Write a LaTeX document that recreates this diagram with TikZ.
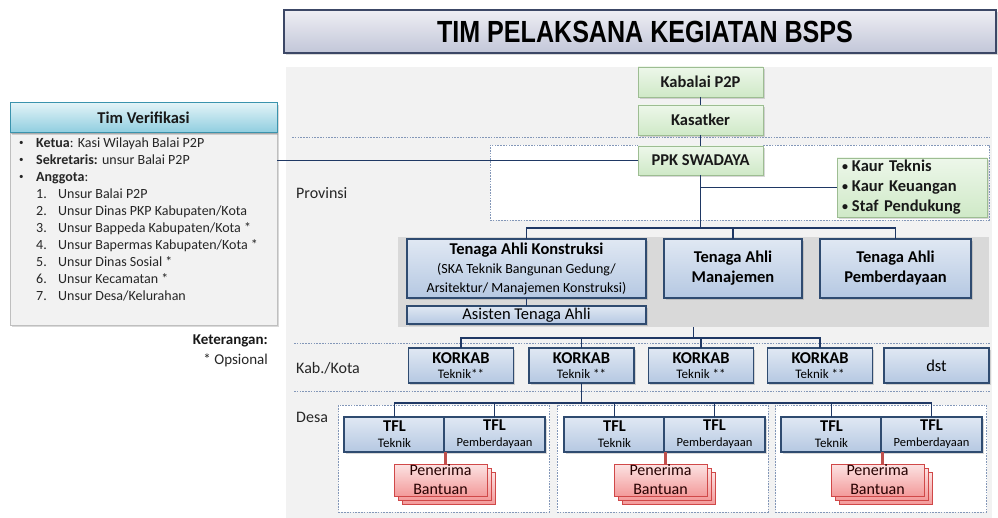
\documentclass[tikz,border=0pt]{standalone}
\usepackage{fontspec}
\setmainfont{Carlito}
\newfontfamily\titlefont{Liberation Sans}
\usetikzlibrary{shadows}
\definecolor{navy}{HTML}{1F3864}
\definecolor{panelgray}{HTML}{F2F2F2}
\definecolor{bandgray}{HTML}{D9D9D9}
\definecolor{title1}{HTML}{EEEEF4}
\definecolor{title2}{HTML}{C2C6D8}
\definecolor{titleborder}{HTML}{3C4766}
\definecolor{green1}{HTML}{EDF7EA}
\definecolor{green2}{HTML}{CFE9C7}
\definecolor{greenborder}{HTML}{9DBD92}
\definecolor{blue1}{HTML}{E0E8F3}
\definecolor{blue2}{HTML}{B5C8E2}
\definecolor{blueborder}{HTML}{2F4B70}
\definecolor{teal1}{HTML}{E2F3F7}
\definecolor{teal2}{HTML}{8ECDDF}
\definecolor{tealborder}{HTML}{3A93AD}
\definecolor{pink1}{HTML}{FCE3E3}
\definecolor{pink2}{HTML}{F39A9A}
\definecolor{pinkborder}{HTML}{D04848}
\definecolor{redline}{HTML}{C0504D}
\definecolor{dashcol}{HTML}{8397B8}
\definecolor{bodygray}{HTML}{F2F2F2}
\definecolor{bodyborder}{HTML}{BFBFBF}
\newcommand{\smallbul}{\raisebox{0.25ex}{\fontsize{9}{9}\selectfont•}}
\newcommand{\kaurbul}{\raisebox{0.2ex}{\fontsize{12}{12}\selectfont•}\hspace{4pt}}
\begin{document}
\begin{tikzpicture}[x=1pt,y=-1pt,
  box/.style={inner sep=0pt, outer sep=0pt, align=center},
  shadowed/.style={drop shadow={shadow xshift=1.8pt, shadow yshift=-1.8pt, opacity=0.3}},
  titlebox/.style={box, shadowed, draw=titleborder, line width=1.2pt, top color=title1, bottom color=title2},
  greenbox/.style={box, shadowed, draw=greenborder, line width=0.9pt, top color=green1, bottom color=green2,
     font=\fontsize{16.5}{20}\selectfont\bfseries, text=black!90},
  bluebox/.style={box, shadowed, draw=blueborder, line width=1.3pt, top color=blue1, bottom color=blue2, text=black},
  pinkbox/.style={box, draw=pinkborder, line width=0.9pt, top color=pink1, bottom color=pink2,
     minimum width=93pt, minimum height=32pt, text=black!85!red, font=\fontsize{16}{19}\selectfont},
  dashbox/.style={box, draw=dashcol, fill=white, line width=0.8pt, dash pattern=on 1.6pt off 1.2pt},
  sepline/.style={draw=dashcol, line width=0.8pt, dash pattern=on 1.6pt off 1.2pt},
  conn/.style={draw=navy, line width=1.8pt},
  redconn/.style={draw=redline, line width=3pt},
  lvl/.style={anchor=west, inner sep=0pt, font=\fontsize{16}{19}\selectfont, text=black!85},
  tvtext/.style={anchor=north west, inner sep=0pt, align=left, font=\fontsize{14}{17}\selectfont, text=black!85},
  korkab/.style={bluebox, minimum width=105pt, minimum height=35pt},
  tfl/.style={bluebox, minimum width=101pt, minimum height=35pt},
  desabox/.style={dashbox, minimum width=211pt, minimum height=107pt}
]
\useasboundingbox (0,0) rectangle (998,518);

% background panel
\fill[panelgray] (286,67) rectangle (992,518);

% title
\node[titlebox, minimum width=712pt, minimum height=43pt] (title) at (640,31.5)
  {\hspace*{10pt}\scalebox{0.82}[1]{\titlefont\bfseries\fontsize{30.6}{32}\selectfont TIM PELAKSANA KEGIATAN BSPS}};

% separators
\draw[sepline] (292,137) -- (990,137);
\draw[sepline] (294,343) -- (990,343);
\draw[sepline] (294,391) -- (990,391);

% provinsi white dashed area
\node[dashbox, minimum width=499pt, minimum height=75pt] (provbox) at (739.5,182.5) {};

% grey band of experts
\node[box, fill=bandgray, minimum width=591pt, minimum height=90pt] (band) at (693.5,282) {};

% desa areas
\node[desabox] (desa1) at (444,458.5) {};
\node[desabox] (desa2) at (662.5,458.5) {};
\node[desabox] (desa3) at (881,458.5) {};

% Tim Verifikasi
\node[box, shadowed, draw=bodyborder, fill=bodygray, line width=0.8pt, minimum width=267pt, minimum height=192pt] (tvbody) at (143.5,229) {};
\node[box, shadowed, draw=tealborder, line width=1pt, top color=teal1, bottom color=teal2,
  minimum width=267pt, minimum height=30pt, font=\fontsize{16.5}{20}\selectfont\bfseries, text=black!90] (tvhead) at (143.5,118) {Tim Verifikasi};
\node[tvtext] (tvlist) at (19,137.5) {%
\makebox[17pt][l]{\smallbul}\textbf{Ketua}: Kasi Wilayah Balai P2P\\
\makebox[17pt][l]{\smallbul}\textbf{Sekretaris:} unsur Balai P2P\\
\makebox[17pt][l]{\smallbul}\textbf{Anggota}:\\
\hspace*{17pt}\makebox[22pt][l]{1.}Unsur Balai P2P\\
\hspace*{17pt}\makebox[22pt][l]{2.}Unsur Dinas PKP Kabupaten/Kota\\
\hspace*{17pt}\makebox[22pt][l]{3.}Unsur Bappeda Kabupaten/Kota *\\
\hspace*{17pt}\makebox[22pt][l]{4.}Unsur Bapermas Kabupaten/Kota *\\
\hspace*{17pt}\makebox[22pt][l]{5.}Unsur Dinas Sosial *\\
\hspace*{17pt}\makebox[22pt][l]{6.}Unsur Kecamatan *\\
\hspace*{17pt}\makebox[22pt][l]{7.}Unsur Desa/Kelurahan};

% keterangan
\node[anchor=east, inner sep=0pt, font=\fontsize{15}{18}\selectfont\bfseries, text=black!90] (ket) at (268,341) {Keterangan:};
\node[anchor=east, inner sep=0pt, font=\fontsize{15}{18}\selectfont, text=black!85] (ops) at (268,360) {* Opsional};

% level labels
\node[lvl] (lprov) at (296,193) {Provinsi};
\node[lvl] (lkab) at (296,368) {Kab./Kota};
\node[lvl] (ldesa) at (296,417) {Desa};

% green boxes
\node[greenbox, minimum width=125pt, minimum height=30pt] (kabalai) at (700.5,82) {Kabalai P2P};
\node[greenbox, minimum width=125pt, minimum height=30pt] (kasatker) at (700.5,120) {Kasatker};
\node[greenbox, minimum width=125pt, minimum height=29pt] (ppk) at (700.5,160.5) {PPK SWADAYA};
\node[greenbox, text width=140pt, inner xsep=5pt, minimum height=59pt, align=left] (kaur) at (912,187.5)
  {\kaurbul Kaur Teknis\\\kaurbul Kaur Keuangan\\\kaurbul Staf Pendukung};

% experts
\node[bluebox, minimum width=239pt, minimum height=59pt, font=\fontsize{14}{19}\selectfont] (konstruksi) at (526.5,268.5)
  {{\fontsize{16.5}{19}\selectfont\bfseries Tenaga Ahli Konstruksi}\\(SKA Teknik Bangunan Gedung/\\Arsitektur/ Manajemen Konstruksi)};
\node[bluebox, minimum width=138pt, minimum height=59pt, font=\fontsize{16.5}{20}\selectfont\bfseries] (manajemen) at (733,268.5)
  {Tenaga Ahli\\Manajemen};
\node[bluebox, minimum width=151pt, minimum height=59pt, font=\fontsize{16.5}{20}\selectfont\bfseries] (pemb) at (895.5,268.5)
  {Tenaga Ahli\\Pemberdayaan};
\node[bluebox, minimum width=239pt, minimum height=18pt, font=\fontsize{16.5}{18}\selectfont] (asisten) at (526.5,315)
  {Asisten Tenaga Ahli};

% korkab
\node[korkab, font=\fontsize{13}{15}\selectfont] (k1) at (461,365.5) {{\fontsize{16.5}{15}\selectfont\bfseries KORKAB}\\Teknik**};
\node[korkab, font=\fontsize{13}{15}\selectfont] (k2) at (581.5,365.5) {{\fontsize{16.5}{15}\selectfont\bfseries KORKAB}\\Teknik **};
\node[korkab, font=\fontsize{13}{15}\selectfont] (k3) at (701,365.5) {{\fontsize{16.5}{15}\selectfont\bfseries KORKAB}\\Teknik **};
\node[korkab, font=\fontsize{13}{15}\selectfont] (k4) at (820,365.5) {{\fontsize{16.5}{15}\selectfont\bfseries KORKAB}\\Teknik **};
\node[korkab, font=\fontsize{16.5}{18}\selectfont] (dst) at (936.5,365.5) {dst};

% TFL
\foreach \n/\xl in {1/344,2/564,3/781}{
  \node[tfl, font=\fontsize{13}{16}\selectfont] (tfl\n a) at (\xl+50.5,434.5) {{\fontsize{16.5}{16}\selectfont\bfseries TFL}\\Teknik};
  \node[tfl, font=\fontsize{12.5}{16}\selectfont] (tfl\n b) at (\xl+150.5,434.5) {{\fontsize{16.5}{16}\selectfont\bfseries TFL}\\Pemberdayaan};
  \node[pinkbox] (pen\n c) at (\xl+104.5,488) {};
  \node[pinkbox] (pen\n b) at (\xl+100.5,484) {};
  \node[pinkbox] (pen\n) at (\xl+96.5,480) {Penerima\\Bantuan};
  \draw[redconn] (tfl\n a.south east) -- (tfl\n a.south east |- pen\n.north);
}

% connectors
\draw[conn] (kabalai) -- (kasatker);
\draw[conn] (kasatker) -- (ppk);
\draw[conn] (ppk.west) -- (ppk.west -| tvbody.east);
\coordinate (bus1) at (700.5,228);
\draw[conn] (ppk.south) -- (bus1);
\draw[conn] (ppk.south |- kaur.west) -- (kaur.west);
\draw[conn] (konstruksi.north) |- (bus1) -| (pemb.north);
\draw[conn] (manajemen.north) -- (manajemen.north |- bus1);
\draw[conn] (konstruksi.south) -- (asisten.north);
\coordinate (bus2) at (693.5,338);
\draw[conn] (band.south) -- (bus2);
\draw[conn] (k1.north) |- (bus2) -| (k4.north);
\draw[conn] (k2.north) -- (k2.north |- bus2);
\draw[conn] (k3.north) -- (k3.north |- bus2);
\coordinate (bus3) at (581.5,403);
\draw[conn] (k2.south) -- (bus3);
\draw[conn] (tfl1a.north) |- (bus3) -| (tfl3b.north);
\foreach \t in {tfl1b,tfl2a,tfl2b,tfl3a}{
  \draw[conn] (\t.north) -- (\t.north |- bus3);
}
\end{tikzpicture}
\end{document}
